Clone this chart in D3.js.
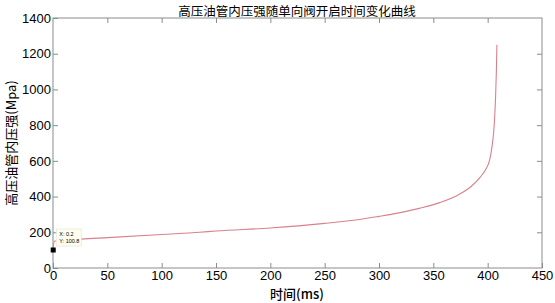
<!DOCTYPE html>
<html><head><meta charset="utf-8">
<script src="https://cdn.jsdelivr.net/npm/d3@7"></script>
<style>body{margin:0;background:#fff}svg{display:block}</style>
</head><body>
<script>
const titleText = "高压油管内压强随单向阀开启时间变化曲线";
const xLabel = "时间(ms)";
const yLabel = "高压油管内压强(Mpa)";
const xTicks = [0,50,100,150,200,250,300,350,400,450];
const yTicks = [0,200,400,600,800,1000,1200,1400];
const timeMs =    [0.2, 1, 10, 50, 100, 135, 150, 200, 250, 282, 300, 310, 337, 356, 374, 385, 393, 398, 402, 404, 405.5, 406.5, 407.3, 408, 408.5];
const pressure =  [100.8, 150, 155, 170, 188, 200, 207, 224, 250, 272, 289, 299, 334, 366, 413, 458, 508, 550, 610, 680, 760, 850, 960, 1100, 1250];
const tipX = 0.2, tipY = 100.8;

const W=555,H=303;
const m={l:53,r:13,t:18,b:35};
const svg=d3.select("body").append("svg").attr("width",W).attr("height",H);
const x=d3.scaleLinear().domain([0,450]).range([m.l,W-m.r]);
const y=d3.scaleLinear().domain([0,1400]).range([H-m.b,m.t]);
const axisCol="#8c8c8c";

svg.append("rect").attr("x",x(0)).attr("y",y(1400)).attr("width",x(450)-x(0)).attr("height",y(0)-y(1400))
  .attr("fill","#fff").attr("stroke",axisCol).attr("stroke-width",1);

function styleAxis(g){g.select(".domain").remove();g.selectAll(".tick line").attr("stroke",axisCol);
  g.selectAll(".tick text").attr("fill","#000").style("font-family","'Liberation Sans',Arial,sans-serif").style("font-size","13px");}
svg.append("g").attr("transform",`translate(0,${y(0)})`).call(d3.axisBottom(x).tickValues(xTicks).tickSize(-5).tickPadding(3).tickFormat(d3.format("d"))).call(styleAxis);
svg.append("g").attr("transform",`translate(0,${y(1400)})`).call(d3.axisTop(x).tickValues(xTicks.slice(1,-1)).tickSize(-5).tickFormat("")).call(styleAxis);
svg.append("g").attr("transform",`translate(${x(0)},0)`).call(d3.axisLeft(y).tickValues(yTicks).tickSize(-5).tickPadding(2).tickFormat(d3.format("d"))).call(styleAxis);
svg.append("g").attr("transform",`translate(${x(450)},0)`).call(d3.axisRight(y).tickValues(yTicks.slice(1,-1)).tickSize(-5).tickFormat("")).call(styleAxis);

const data=timeMs.map((t,i)=>[t,pressure[i]]);
svg.append("path").datum(data).attr("fill","none").attr("stroke","#d9808c").attr("stroke-width",1.1)
  .attr("d",d3.line().x(d=>x(d[0])).y(d=>y(d[1])).curve(d3.curveMonotoneX));

// data tip
svg.append("rect").attr("x",x(tipX)-2.5).attr("y",y(tipY)-2.5).attr("width",5).attr("height",5).attr("fill","#000");
const tg=svg.append("g").attr("transform",`translate(${x(tipX)+3},${y(tipY)-21})`);
tg.append("rect").attr("width",25).attr("height",17).attr("fill","#fffff0").attr("stroke","#e0e0d0").attr("stroke-width",0.6);
tg.append("text").attr("x",3).attr("y",7).text("X: "+tipX).style("font-family","'Liberation Sans',Arial,sans-serif").style("font-size","5.5px");
tg.append("text").attr("x",3).attr("y",14).text("Y: "+tipY).style("font-family","'Liberation Sans',Arial,sans-serif").style("font-size","5.5px");

const cjk="'Noto Sans CJK SC',sans-serif";
svg.append("text").attr("x",297).attr("y",16).attr("text-anchor","middle").text(titleText)
  .style("font-family",cjk).style("font-size","12.5px").style("font-weight","400");
svg.append("text").attr("x",297).attr("y",299).attr("text-anchor","middle").text(xLabel)
  .style("font-family",cjk).style("font-size","13px").style("font-weight","500");
svg.append("text").attr("transform",`translate(16,${(y(0)+y(1400))/2}) rotate(-90)`).attr("text-anchor","middle").text(yLabel)
  .style("font-family",cjk).style("font-size","13px").style("font-weight","400");
</script>
</body></html>
